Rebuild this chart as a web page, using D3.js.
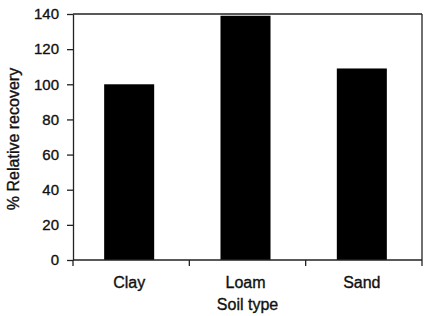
<!DOCTYPE html>
<html>
<head>
<meta charset="utf-8">
<script src="https://cdn.jsdelivr.net/npm/d3@7"></script>
<style>
  body { margin: 0; background: #fff; }
  svg text { font-family: "Liberation Sans", Arial, sans-serif; fill: #111; stroke: #111; stroke-width: 0.35px; }
</style>
</head>
<body>
<div id="chart"></div>
<script>
// Данные
const soilTypes = ['Clay', 'Loam', 'Sand'];
const recovery = [100, 139, 109];
const yTicks = [0, 20, 40, 60, 80, 100, 120, 140];

const width = 428, height = 316;
const margin = { top: 14, right: 6, bottom: 56, left: 73 };
const plotW = width - margin.left - margin.right;
const plotH = height - margin.top - margin.bottom;

const svg = d3.select('#chart').append('svg')
    .attr('width', width)
    .attr('height', height);

const g = svg.append('g')
    .attr('transform', `translate(${margin.left},${margin.top})`);

// Шкалы
const x = d3.scaleBand().domain(soilTypes).range([0, plotW]).padding(0);
const y = d3.scaleLinear().domain([0, 140]).range([plotH, 0]);
const barFrac = 0.43;

// Рамка сверху и справа
g.append('line')
    .attr('x1', 0).attr('x2', plotW).attr('y1', 0).attr('y2', 0)
    .attr('stroke', '#222').attr('stroke-width', 1.3);
g.append('line')
    .attr('x1', plotW).attr('x2', plotW).attr('y1', 0).attr('y2', plotH)
    .attr('stroke', '#222').attr('stroke-width', 1.3);

// Столбцы
g.selectAll('rect.bar')
    .data(soilTypes)
    .enter().append('rect')
    .attr('class', 'bar')
    .attr('x', (d, i) => x(d) + x.bandwidth() * (1 - barFrac) / 2 - 2)
    .attr('width', x.bandwidth() * barFrac)
    .attr('y', (d, i) => y(recovery[i]))
    .attr('height', (d, i) => plotH - y(recovery[i]))
    .attr('fill', '#000');

// Ось Y
const yAxis = g.append('g')
    .call(d3.axisLeft(y).tickValues(yTicks).tickSize(6).tickPadding(8).tickSizeOuter(0));
yAxis.selectAll('text').style('font-size', '15px');

// Ось X: засечки на границах категорий
const bounds = soilTypes.map(d => x(d)).concat([plotW]);
const xAxis = g.append('g').attr('transform', `translate(0,${plotH})`);
xAxis.append('line')
    .attr('x1', 0).attr('x2', plotW)
    .attr('stroke', '#222').attr('stroke-width', 1.3);
xAxis.selectAll('line.tick')
    .data(bounds)
    .enter().append('line')
    .attr('class', 'tick')
    .attr('x1', d => d).attr('x2', d => d)
    .attr('y1', 0).attr('y2', 6)
    .attr('stroke', '#222').attr('stroke-width', 1.3);
xAxis.selectAll('text.lbl')
    .data(soilTypes)
    .enter().append('text')
    .attr('class', 'lbl')
    .attr('x', d => x(d) + x.bandwidth() / 2 - 2)
    .attr('y', 28)
    .attr('text-anchor', 'middle')
    .style('font-size', '16px')
    .text(d => d);

yAxis.selectAll('path, line').attr('stroke', '#222').attr('stroke-width', 1.3);

// Подписи осей
svg.append('text')
    .attr('x', margin.left + plotW / 2)
    .attr('y', 310)
    .attr('text-anchor', 'middle')
    .style('font-size', '16px')
    .text('Soil type');

svg.append('text')
    .attr('transform', `translate(19,139) rotate(-90)`)
    .attr('text-anchor', 'middle')
    .style('font-size', '16px')
    .text('% Relative recovery');
</script>
</body>
</html>
